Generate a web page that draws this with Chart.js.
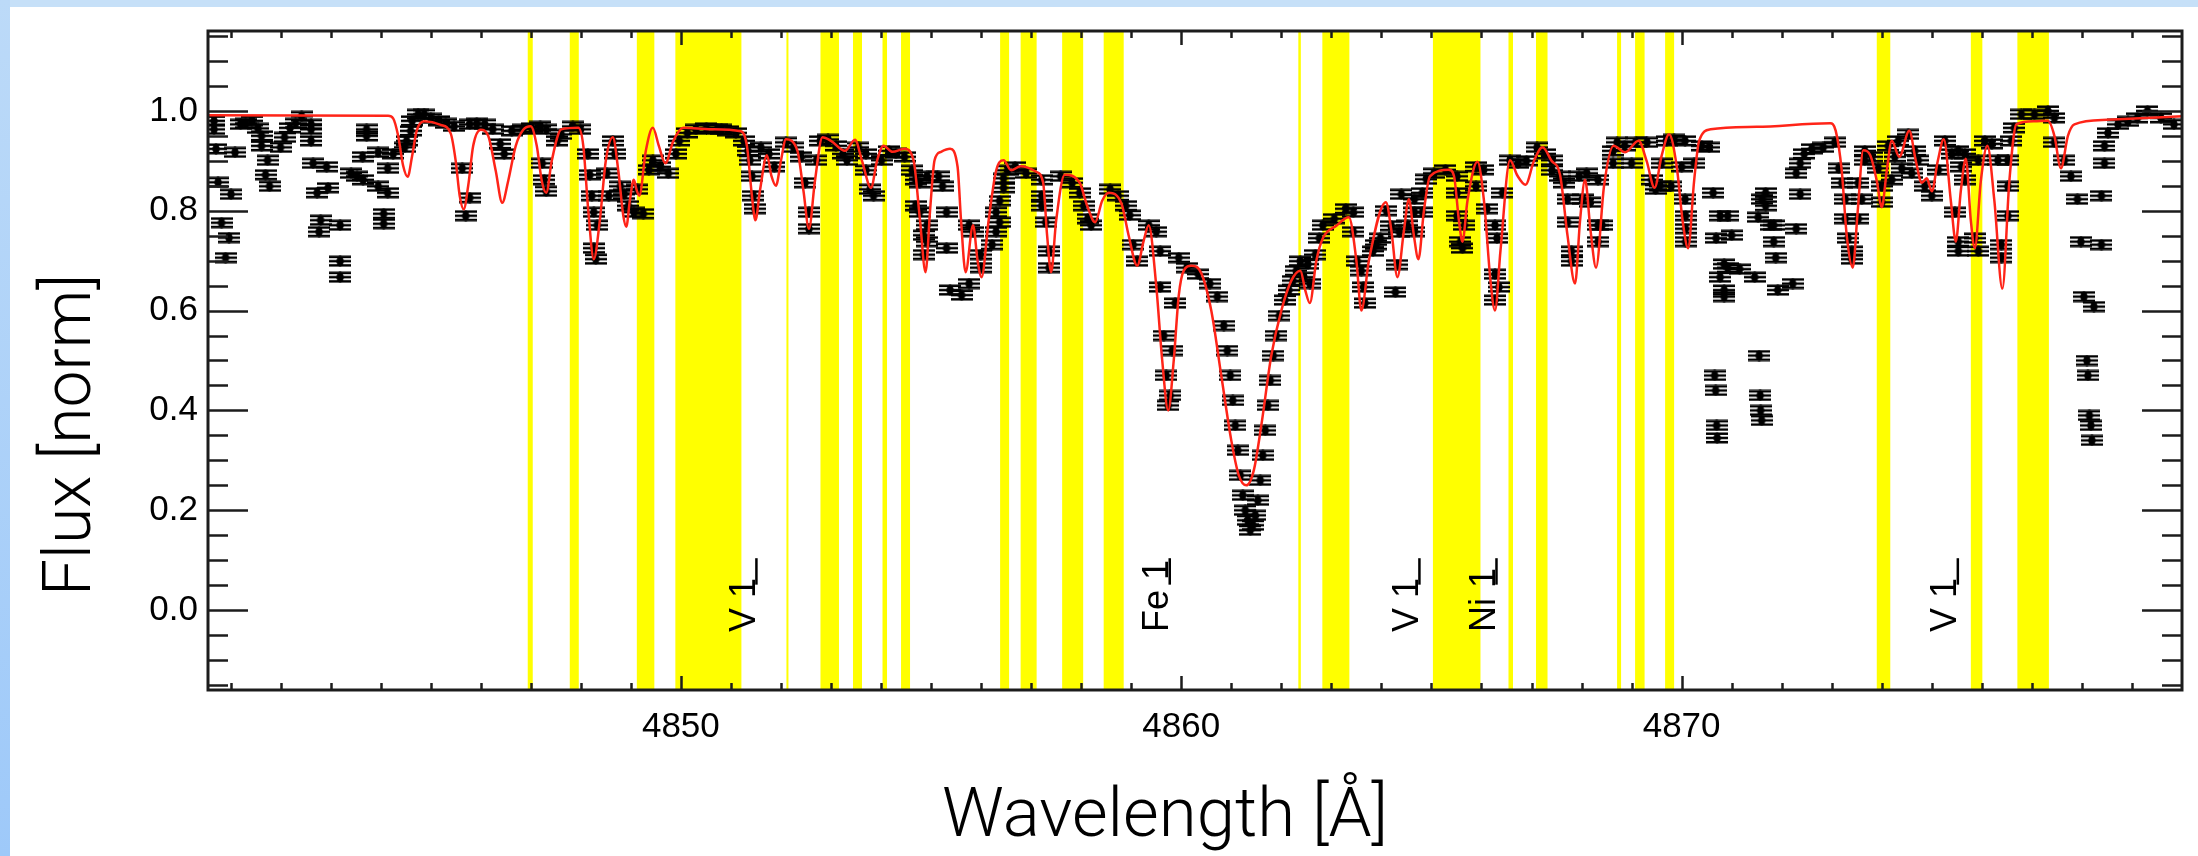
<!DOCTYPE html>
<html>
<head>
<meta charset="utf-8">
<script src="https://cdn.jsdelivr.net/npm/chart.js@4.4.1/dist/chart.umd.min.js"></script>
<style>
  html, body { margin: 0; padding: 0; background: #fff; }
  #wrap { width: 2198px; height: 856px; }
</style>
</head>
<body>
<div id="wrap"><canvas id="spec" width="2198" height="856"></canvas></div>
<script>
// observed spectrum (wavelength in Angstrom, normalised flux)
const obsWave = [
  4840.67, 4840.67, 4840.71, 4840.75, 4840.82, 4840.90, 4840.97, 4841.01, 4841.09, 4841.20,
  4841.30, 4841.43, 4841.55, 4841.62, 4841.62, 4841.70, 4841.74, 4841.78, 4842.00, 4842.08,
  4842.19, 4842.30, 4842.42, 4842.61, 4842.61, 4842.61, 4842.65, 4842.73, 4842.77, 4842.80,
  4842.92, 4842.95, 4843.19, 4843.19, 4843.19, 4843.41, 4843.53, 4843.64, 4843.65, 4843.72,
  4843.72, 4843.95, 4843.95, 4844.06, 4844.06, 4844.14, 4844.14, 4844.25, 4844.48, 4844.52,
  4844.60, 4844.63, 4844.75, 4844.87, 4845.00, 4845.16, 4845.30, 4845.47, 4845.63, 4845.70,
  4845.78, 4845.78, 4845.92, 4846.08, 4846.24, 4846.39, 4846.47, 4846.62, 4846.85, 4847.02,
  4847.19, 4847.23, 4847.27, 4847.31, 4847.31, 4847.53, 4847.61, 4847.84, 4847.99, 4848.14,
  4848.18, 4848.22, 4848.26, 4848.26, 4848.30, 4848.33, 4848.52, 4848.56, 4848.64, 4848.68,
  4848.79, 4848.87, 4848.95, 4849.06, 4849.13, 4849.25, 4849.36, 4849.44, 4849.59, 4849.75,
  4849.90, 4849.97, 4850.13, 4850.30, 4850.51, 4850.73, 4850.81, 4850.95, 4851.10, 4851.26,
  4851.34, 4851.38, 4851.42, 4851.45, 4851.48, 4851.60, 4851.76, 4851.87, 4852.10, 4852.25,
  4852.41, 4852.48, 4852.56, 4852.56, 4852.71, 4852.79, 4852.94, 4853.10, 4853.24, 4853.32,
  4853.55, 4853.70, 4853.70, 4853.78, 4853.85, 4854.01, 4854.16, 4854.30, 4854.47, 4854.62,
  4854.69, 4854.69, 4854.77, 4854.77, 4854.85, 4854.85, 4854.92, 4854.92, 4854.92, 4855.15,
  4855.23, 4855.31, 4855.31, 4855.38, 4855.61, 4855.76, 4855.76, 4855.84, 4855.99, 4855.99,
  4856.22, 4856.30, 4856.30, 4856.37, 4856.37, 4856.45, 4856.45, 4856.53, 4856.68, 4856.90,
  4857.21, 4857.21, 4857.21, 4857.29, 4857.36, 4857.36, 4857.59, 4857.82, 4857.97, 4858.05,
  4858.13, 4858.20, 4858.58, 4858.74, 4858.89, 4858.97, 4859.04, 4859.12, 4859.35, 4859.50,
  4859.58, 4859.58, 4859.65, 4859.70, 4859.74, 4859.78, 4859.82, 4859.88, 4859.95, 4860.11,
  4860.34, 4860.57, 4860.72, 4860.85, 4860.92, 4860.98, 4861.03, 4861.08, 4861.13, 4861.18,
  4861.23, 4861.28, 4861.33, 4861.38, 4861.43, 4861.48, 4861.53, 4861.58, 4861.63, 4861.68,
  4861.73, 4861.78, 4861.84, 4861.90, 4861.96, 4862.07, 4862.15, 4862.23, 4862.30, 4862.38,
  4862.45, 4862.53, 4862.57, 4862.68, 4862.76, 4862.83, 4863.06, 4863.29, 4863.44, 4863.44,
  4863.52, 4863.60, 4863.64, 4863.67, 4863.83, 4863.90, 4863.98, 4864.10, 4864.20, 4864.28,
  4864.32, 4864.36, 4864.40, 4864.52, 4864.66, 4864.66, 4864.66, 4864.82, 4864.82, 4864.90,
  4865.05, 4865.28, 4865.51, 4865.51, 4865.51, 4865.58, 4865.62, 4865.66, 4865.89, 4865.89,
  4866.04, 4866.11, 4866.27, 4866.27, 4866.27, 4866.31, 4866.35, 4866.42, 4866.57, 4866.73,
  4866.90, 4867.11, 4867.26, 4867.41, 4867.41, 4867.56, 4867.64, 4867.72, 4867.72, 4867.80,
  4867.80, 4867.95, 4868.02, 4868.10, 4868.17, 4868.33, 4868.33, 4868.33, 4868.41, 4868.63,
  4868.63, 4868.71, 4868.86, 4869.00, 4869.08, 4869.31, 4869.40, 4869.48, 4869.56, 4869.60,
  4869.70, 4869.79, 4869.85, 4870.00, 4870.07, 4870.07, 4870.08, 4870.08, 4870.08, 4870.25,
  4870.40, 4870.55, 4870.63, 4870.69, 4870.77, 4870.77, 4870.85, 4870.85, 4870.85, 4870.66,
  4870.68, 4870.70, 4870.71, 4870.92, 4870.92, 4871.00, 4871.16, 4871.46, 4871.53, 4871.61,
  4871.68, 4871.68, 4871.78, 4871.84, 4871.84, 4871.88, 4871.92, 4871.55, 4871.57, 4871.58,
  4871.60, 4872.22, 4872.29, 4872.29, 4872.37, 4872.37, 4872.45, 4872.60, 4872.83, 4873.06,
  4873.14, 4873.20, 4873.27, 4873.27, 4873.33, 4873.40, 4873.40, 4873.53, 4873.53, 4873.60,
  4873.66, 4873.66, 4873.80, 4873.93, 4874.00, 4874.00, 4874.13, 4874.20, 4874.26, 4874.33,
  4874.40, 4874.53, 4874.60, 4874.66, 4874.73, 4874.86, 4875.00, 4875.13, 4875.26, 4875.40,
  4875.46, 4875.53, 4875.53, 4875.53, 4875.59, 4875.66, 4875.66, 4875.86, 4875.93, 4875.93,
  4876.06, 4876.20, 4876.32, 4876.39, 4876.39, 4876.52, 4876.52, 4876.52, 4876.59, 4876.65,
  4876.79, 4877.05, 4877.32, 4877.45, 4877.45, 4877.65, 4877.78, 4877.91, 4877.98, 4878.04,
  4878.10, 4878.12, 4878.15, 4878.18, 4878.20, 4878.24, 4878.39, 4878.39, 4878.45, 4878.45,
  4878.52, 4878.72, 4878.92, 4879.11, 4879.31, 4879.58, 4879.84
];
const obsFlux = [
  0.980, 0.963, 0.924, 0.857, 0.776, 0.706, 0.746, 0.833, 0.917, 0.973,
  0.975, 0.980, 0.965, 0.950, 0.930, 0.872, 0.901, 0.849, 0.927, 0.947,
  0.966, 0.975, 0.989, 0.973, 0.963, 0.940, 0.895, 0.836, 0.758, 0.781,
  0.888, 0.846, 0.699, 0.667, 0.771, 0.875, 0.869, 0.908, 0.862, 0.963,
  0.950, 0.917, 0.849, 0.794, 0.774, 0.885, 0.836, 0.914, 0.927, 0.940,
  0.960, 0.980, 0.993, 0.993, 0.985, 0.980, 0.975, 0.969, 0.885, 0.790,
  0.973, 0.826, 0.975, 0.973, 0.963, 0.934, 0.914, 0.960, 0.963, 0.966,
  0.969, 0.895, 0.862, 0.963, 0.839, 0.940, 0.953, 0.969, 0.963, 0.914,
  0.872, 0.830, 0.797, 0.725, 0.703, 0.771, 0.875, 0.830, 0.940, 0.914,
  0.849, 0.833, 0.810, 0.797, 0.843, 0.794, 0.882, 0.901, 0.888, 0.875,
  0.914, 0.940, 0.956, 0.963, 0.966, 0.963, 0.963, 0.960, 0.956, 0.940,
  0.920, 0.901, 0.869, 0.830, 0.804, 0.927, 0.914, 0.888, 0.937, 0.927,
  0.908, 0.856, 0.797, 0.764, 0.901, 0.940, 0.943, 0.930, 0.914, 0.901,
  0.927, 0.914, 0.881, 0.843, 0.830, 0.901, 0.920, 0.915, 0.908, 0.881,
  0.862, 0.810, 0.856, 0.797, 0.751, 0.712, 0.869, 0.771, 0.738, 0.869,
  0.849, 0.797, 0.725, 0.641, 0.631, 0.654, 0.771, 0.758, 0.712, 0.686,
  0.732, 0.758, 0.797, 0.777, 0.820, 0.846, 0.865, 0.881, 0.888, 0.875,
  0.862, 0.830, 0.810, 0.777, 0.719, 0.686, 0.869, 0.856, 0.836, 0.810,
  0.784, 0.771, 0.843, 0.830, 0.810, 0.791, 0.732, 0.699, 0.771, 0.758,
  0.719, 0.647, 0.550, 0.470, 0.410, 0.430, 0.520, 0.615, 0.706, 0.686,
  0.673, 0.654, 0.628, 0.570, 0.520, 0.470, 0.420, 0.370, 0.320, 0.270,
  0.230, 0.200, 0.180, 0.160, 0.170, 0.190, 0.220, 0.260, 0.310, 0.360,
  0.410, 0.460, 0.510, 0.550, 0.590, 0.621, 0.641, 0.660, 0.680, 0.699,
  0.667, 0.693, 0.654, 0.712, 0.745, 0.771, 0.784, 0.804, 0.797, 0.758,
  0.699, 0.680, 0.647, 0.615, 0.719, 0.732, 0.745, 0.800, 0.770, 0.637,
  0.692, 0.757, 0.833, 0.771, 0.823, 0.797, 0.758, 0.797, 0.836, 0.863,
  0.875, 0.882, 0.869, 0.836, 0.790, 0.738, 0.725, 0.771, 0.888, 0.849,
  0.882, 0.804, 0.771, 0.673, 0.621, 0.745, 0.647, 0.836, 0.901, 0.895,
  0.900, 0.927, 0.914, 0.901, 0.881, 0.869, 0.856, 0.823, 0.777, 0.719,
  0.699, 0.869, 0.823, 0.875, 0.817, 0.862, 0.771, 0.738, 0.771, 0.920,
  0.895, 0.937, 0.930, 0.895, 0.937, 0.937, 0.862, 0.843, 0.849, 0.895,
  0.940, 0.849, 0.943, 0.888, 0.823, 0.940, 0.790, 0.764, 0.738, 0.895,
  0.930, 0.927, 0.836, 0.745, 0.790, 0.667, 0.693, 0.641, 0.628, 0.470,
  0.440, 0.370, 0.345, 0.790, 0.686, 0.751, 0.683, 0.667, 0.787, 0.823,
  0.836, 0.810, 0.771, 0.771, 0.738, 0.706, 0.641, 0.510, 0.430, 0.400,
  0.380, 0.654, 0.764, 0.875, 0.833, 0.895, 0.914, 0.924, 0.927, 0.937,
  0.885, 0.856, 0.823, 0.784, 0.745, 0.719, 0.703, 0.784, 0.856, 0.823,
  0.901, 0.920, 0.908, 0.885, 0.849, 0.817, 0.930, 0.862, 0.908, 0.940,
  0.885, 0.953, 0.875, 0.920, 0.901, 0.849, 0.830, 0.882, 0.940, 0.914,
  0.797, 0.920, 0.738, 0.719, 0.888, 0.914, 0.862, 0.745, 0.901, 0.719,
  0.940, 0.934, 0.901, 0.732, 0.706, 0.901, 0.849, 0.790, 0.940, 0.966,
  0.993, 0.993, 1.000, 0.986, 0.937, 0.901, 0.869, 0.823, 0.738, 0.628,
  0.500, 0.470, 0.390, 0.370, 0.340, 0.608, 0.830, 0.732, 0.895, 0.930,
  0.956, 0.973, 0.979, 0.986, 1.000, 0.986, 0.973
];

// synthetic fit
const modelWave = [
  4840.55, 4844.15, 4844.25, 4844.35, 4844.45, 4844.54, 4844.63, 4844.72, 4844.87, 4845.20,
  4845.40, 4845.50, 4845.58, 4845.66, 4845.75, 4845.85, 4846.00, 4846.15, 4846.30, 4846.43,
  4846.55, 4846.70, 4846.85, 4847.00, 4847.12, 4847.22, 4847.31, 4847.42, 4847.61, 4847.95,
  4848.05, 4848.15, 4848.26, 4848.38, 4848.50, 4848.64, 4848.75, 4848.85, 4848.91, 4848.98,
  4849.06, 4849.12, 4849.17, 4849.30, 4849.44, 4849.56, 4849.69, 4849.85, 4850.05, 4850.60,
  4851.20, 4851.32, 4851.42, 4851.49, 4851.58, 4851.72, 4851.81, 4851.90, 4852.00, 4852.10,
  4852.33, 4852.45, 4852.56, 4852.68, 4852.83, 4853.00, 4853.28, 4853.48, 4853.62, 4853.80,
  4853.92, 4854.05, 4854.23, 4854.47, 4854.65, 4854.78, 4854.89, 4854.98, 4855.07, 4855.20,
  4855.38, 4855.53, 4855.60, 4855.69, 4855.84, 4855.93, 4856.01, 4856.15, 4856.30, 4856.45,
  4856.60, 4856.79, 4857.10, 4857.24, 4857.32, 4857.40, 4857.50, 4857.67, 4857.97, 4858.12,
  4858.28, 4858.42, 4858.55, 4858.81, 4858.95, 4859.12, 4859.25, 4859.35, 4859.50, 4859.62,
  4859.74, 4859.85, 4859.95, 4860.05, 4860.20, 4860.40, 4860.60, 4860.80, 4861.00, 4861.15,
  4861.30, 4861.45, 4861.60, 4861.80, 4862.00, 4862.20, 4862.38, 4862.48, 4862.57, 4862.70,
  4862.83, 4863.10, 4863.35, 4863.50, 4863.60, 4863.75, 4864.09, 4864.20, 4864.32, 4864.45,
  4864.55, 4864.65, 4864.74, 4864.85, 4864.97, 4865.35, 4865.45, 4865.55, 4865.62, 4865.72,
  4865.92, 4866.05, 4866.18, 4866.27, 4866.38, 4866.57, 4866.72, 4866.88, 4867.05, 4867.22,
  4867.40, 4867.57, 4867.72, 4867.87, 4867.97, 4868.07, 4868.18, 4868.29, 4868.45, 4868.64,
  4868.87, 4869.14, 4869.30, 4869.46, 4869.60, 4869.75, 4869.90, 4870.02, 4870.13, 4870.25,
  4870.35, 4870.58, 4871.50, 4872.97, 4873.08, 4873.20, 4873.30, 4873.42, 4873.52, 4873.63,
  4873.77, 4873.90, 4874.00, 4874.10, 4874.20, 4874.35, 4874.55, 4874.68, 4874.80, 4874.90,
  4875.00, 4875.12, 4875.24, 4875.38, 4875.48, 4875.58, 4875.68, 4875.78, 4875.86, 4875.98,
  4876.11, 4876.25, 4876.41, 4876.55, 4876.69, 4877.05, 4877.32, 4877.45, 4877.58, 4877.72,
  4877.85, 4878.50, 4880.00
];
const modelFlux = [
  0.991, 0.990, 0.985, 0.950, 0.890, 0.868, 0.910, 0.960, 0.979, 0.972,
  0.955, 0.900, 0.830, 0.803, 0.850, 0.930, 0.962, 0.950, 0.880, 0.816,
  0.860, 0.930, 0.962, 0.969, 0.930, 0.860, 0.836, 0.900, 0.963, 0.966,
  0.930, 0.800, 0.703, 0.780, 0.900, 0.947, 0.880, 0.790, 0.768, 0.820,
  0.862, 0.840, 0.830, 0.920, 0.966, 0.930, 0.895, 0.940, 0.966, 0.963,
  0.959, 0.930, 0.830, 0.781, 0.840, 0.911, 0.870, 0.850, 0.900, 0.943,
  0.920, 0.840, 0.764, 0.860, 0.947, 0.940, 0.920, 0.942, 0.900, 0.846,
  0.900, 0.930, 0.918, 0.924, 0.901, 0.780, 0.677, 0.800, 0.901, 0.918,
  0.924, 0.888, 0.780, 0.677, 0.771, 0.700, 0.667, 0.780, 0.880, 0.901,
  0.881, 0.889, 0.878, 0.856, 0.750, 0.677, 0.780, 0.872, 0.856, 0.810,
  0.777, 0.820, 0.836, 0.813, 0.750, 0.690, 0.740, 0.771, 0.650, 0.500,
  0.400, 0.500, 0.630, 0.680, 0.690, 0.675, 0.600, 0.470, 0.340, 0.270,
  0.250, 0.280, 0.370, 0.510, 0.600, 0.660, 0.680, 0.640, 0.615, 0.700,
  0.745, 0.770, 0.787, 0.700, 0.600, 0.700, 0.817, 0.760, 0.667, 0.760,
  0.823, 0.750, 0.703, 0.800, 0.869, 0.882, 0.870, 0.780, 0.738, 0.820,
  0.898, 0.820, 0.660, 0.600, 0.720, 0.901, 0.870, 0.852, 0.900, 0.927,
  0.900, 0.872, 0.750, 0.654, 0.780, 0.862, 0.760, 0.686, 0.850, 0.930,
  0.917, 0.940, 0.900, 0.846, 0.910, 0.953, 0.890, 0.780, 0.725, 0.860,
  0.940, 0.963, 0.968, 0.975, 0.960, 0.880, 0.750, 0.686, 0.800, 0.921,
  0.911, 0.860, 0.807, 0.880, 0.940, 0.908, 0.960, 0.900, 0.856, 0.865,
  0.839, 0.900, 0.943, 0.820, 0.738, 0.840, 0.904, 0.780, 0.725, 0.860,
  0.930, 0.820, 0.644, 0.860, 0.973, 0.979, 0.980, 0.950, 0.885, 0.950,
  0.973, 0.982, 0.989
];

// wavelength windows used in the fit
const maskLo = [
  4846.94, 4847.78, 4849.12, 4849.89, 4852.11, 4852.79, 4853.44, 4854.03, 4854.40, 4856.38,
  4856.79, 4857.62, 4858.45, 4862.34, 4862.82, 4865.03, 4866.54, 4867.09, 4868.71, 4869.07,
  4869.67, 4873.90, 4875.78, 4876.71
];
const maskHi = [
  4847.04, 4847.96, 4849.47, 4851.21, 4852.14, 4853.16, 4853.62, 4854.12, 4854.58, 4856.56,
  4857.11, 4858.04, 4858.85, 4862.39, 4863.36, 4865.98, 4866.63, 4867.32, 4868.79, 4869.26,
  4869.85, 4874.17, 4876.01, 4877.34
];

// line identifications
const lineNames = ['V 1', 'Fe 1', 'V 1', 'Ni 1', 'V 1'];
const lineWaves = [4851.48, 4859.74, 4864.73, 4866.27, 4875.49];

const xTickLabels = [4850, 4860, 4870];
const yTickLabels = [0.0, 0.2, 0.4, 0.6, 0.8, 1.0];

const X_MIN = 4840.55, X_MAX = 4880.0;
const Y_MIN = -0.16, Y_MAX = 1.16;
const INK = '#1c1c1c';

// error-bar style marker used for every observed point
function makeMarker() {
  const c = document.createElement('canvas');
  c.width = 22;
  c.height = 12;
  const g = c.getContext('2d');
  g.fillStyle = '#000';
  g.fillRect(0, 0.5, 22, 2.5);
  g.fillRect(0, 9, 22, 2.5);
  g.fillRect(0, 4.75, 22, 2.5);
  g.fillRect(9.75, 0.5, 2.5, 11);
  g.beginPath();
  g.arc(11, 6, 3.8, 0, Math.PI * 2);
  g.fill();
  return c;
}

const frame = {
  id: 'frame',
  beforeDraw(chart) {
    const { ctx, width, height } = chart;
    ctx.save();
    ctx.fillStyle = '#fff';
    ctx.fillRect(0, 0, width, height);
    ctx.fillStyle = '#c6e0f8';
    ctx.fillRect(0, 0, width, 7);
    const g = ctx.createLinearGradient(0, 0, 0, height);
    g.addColorStop(0, '#bcdaf8');
    g.addColorStop(1, '#9ec9f9');
    ctx.fillStyle = g;
    ctx.fillRect(0, 0, 10, height);
    ctx.restore();
  },
  beforeDatasetsDraw(chart) {
    const { ctx, chartArea: a, scales: { x } } = chart;
    ctx.save();
    ctx.fillStyle = '#ffff00';
    maskLo.forEach((lo, i) => {
      const x0 = x.getPixelForValue(lo);
      const x1 = x.getPixelForValue(maskHi[i]);
      ctx.fillRect(x0, a.top, Math.max(x1 - x0, 2), a.bottom - a.top);
    });
    ctx.restore();
  },
  afterDatasetsDraw(chart) {
    const { ctx, scales: { x, y } } = chart;
    ctx.save();
    ctx.fillStyle = '#000';
    ctx.strokeStyle = '#000';
    ctx.lineWidth = 2.5;
    ctx.font = '36px "Liberation Sans", Arial, sans-serif';
    ctx.textBaseline = 'alphabetic';
    ctx.textAlign = 'left';
    lineWaves.forEach((w, i) => {
      const px = x.getPixelForValue(w);
      ctx.save();
      ctx.translate(px, y.getPixelForValue(-0.044));
      ctx.rotate(-Math.PI / 2);
      ctx.fillText(lineNames[i], 0, 0);
      ctx.restore();
      ctx.beginPath();
      ctx.moveTo(px + 1.5, y.getPixelForValue(0.051));
      ctx.lineTo(px + 1.5, y.getPixelForValue(0.104));
      ctx.stroke();
    });
    ctx.restore();
  },
  afterDraw(chart) {
    const { ctx, chartArea: a, scales: { x, y } } = chart;
    ctx.save();
    ctx.strokeStyle = INK;
    ctx.lineWidth = 2.5;
    ctx.beginPath();
    // minor and major wavelength ticks, bottom and top
    for (let w = Math.ceil(X_MIN); w <= X_MAX - 0.5; w++) {
      const px = Math.round(x.getPixelForValue(w)) + 0.5;
      const len = w % 10 === 0 ? 14 : 7;
      ctx.moveTo(px, a.bottom); ctx.lineTo(px, a.bottom - len);
      ctx.moveTo(px, a.top); ctx.lineTo(px, a.top + len);
    }
    // flux ticks, left and right
    for (let k = -3; k <= 23; k++) {
      const v = k * 0.05;
      const py = Math.round(y.getPixelForValue(v)) + 0.5;
      const len = k % 4 === 0 ? 40 : 20;
      ctx.moveTo(a.left, py); ctx.lineTo(a.left + len, py);
      ctx.moveTo(a.right, py); ctx.lineTo(a.right - len, py);
    }
    ctx.stroke();
    ctx.lineWidth = 3;
    ctx.strokeRect(a.left, a.top, a.right - a.left, a.bottom - a.top);

    // axis titles
    ctx.fillStyle = '#000';
    ctx.textAlign = 'center';
    ctx.textBaseline = 'alphabetic';
    ctx.font = '300 69px Roboto, "Liberation Sans", sans-serif';
    ctx.fillText('Wavelength [Å]', (a.left + a.right) / 2 - 30, 836);
    ctx.font = '300 66px Roboto, "Liberation Sans", sans-serif';
    ctx.translate(90, 435);
    ctx.rotate(-Math.PI / 2);
    ctx.fillText('Flux [norm]', 0, 0);
    ctx.restore();
  }
};

const tickFont = { family: '"Liberation Sans", Arial, sans-serif', size: 35 };

new Chart(document.getElementById('spec'), {
  type: 'scatter',
  data: {
    datasets: [
      {
        label: 'fit',
        data: modelWave.map((w, i) => ({ x: w, y: modelFlux[i] })),
        showLine: true,
        borderColor: '#ff2418',
        borderWidth: 2.5,
        pointRadius: 0,
        cubicInterpolationMode: 'monotone'
      },
      {
        label: 'observed',
        data: obsWave.map((w, i) => ({ x: w, y: obsFlux[i] })),
        showLine: false,
        pointStyle: makeMarker(),
        pointRadius: 4,
        borderWidth: 0,
        backgroundColor: '#000'
      }
    ]
  },
  options: {
    responsive: false,
    animation: false,
    devicePixelRatio: 1,
    layout: { padding: { left: 0, right: 12, top: 14, bottom: 0 } },
    plugins: { legend: { display: false }, tooltip: { enabled: false } },
    scales: {
      x: {
        type: 'linear',
        min: X_MIN,
        max: X_MAX,
        afterFit: s => { s.height = 166; },
        grid: { display: false, drawTicks: false },
        border: { display: false },
        ticks: {
          stepSize: 10,
          autoSkip: false,
          maxRotation: 0,
          padding: 16,
          color: '#000',
          font: tickFont,
          callback: v => xTickLabels.includes(Math.round(v * 100) / 100) ? String(v) : ''
        }
      },
      y: {
        min: Y_MIN,
        max: Y_MAX,
        afterFit: s => { s.width = 208; },
        grid: { display: false, drawTicks: false },
        border: { display: false },
        ticks: {
          stepSize: 0.2,
          autoSkip: false,
          padding: 10,
          color: '#000',
          font: tickFont,
          callback: v => yTickLabels.some(t => Math.abs(t - v) < 1e-6) ? v.toFixed(1) : ''
        }
      }
    }
  },
  plugins: [frame]
});
</script>
</body>
</html>
